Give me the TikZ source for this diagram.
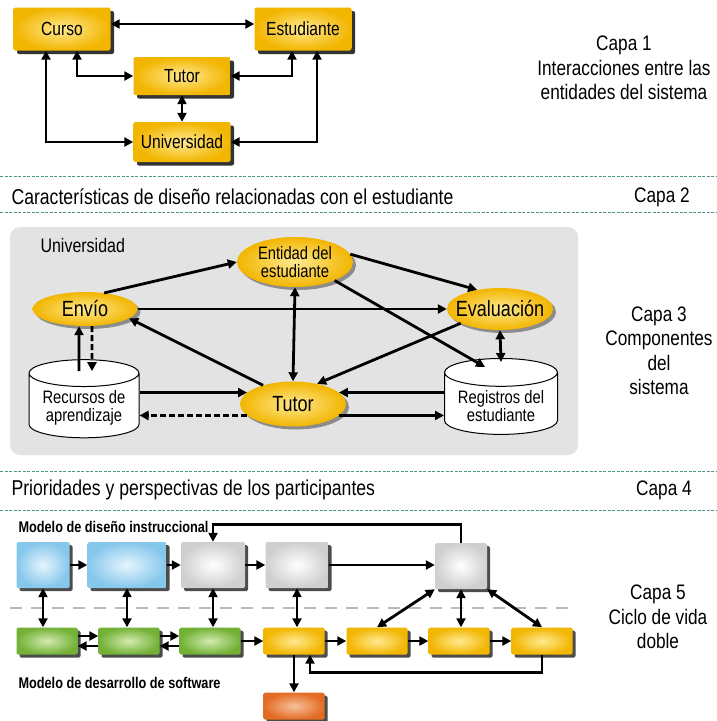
\documentclass[tikz,border=0pt]{standalone}
\usepackage{fontspec}
\setmainfont{Liberation Sans}[FakeStretch=0.82]
\usetikzlibrary{arrows.meta,positioning,shapes.geometric,shadows}

\definecolor{gold}{HTML}{F2B500}
\definecolor{goldlight}{HTML}{FFEA90}
\definecolor{sepgreen}{HTML}{4E9A86}
\definecolor{panelgray}{HTML}{E3E3E3}
\definecolor{skyblue}{HTML}{86C7EC}
\definecolor{skylight}{HTML}{E6F5FD}
\definecolor{boxgray}{HTML}{CFCFCF}
\definecolor{leafgreen}{HTML}{72B136}
\definecolor{leaflight}{HTML}{D3EBB0}
\definecolor{rust}{HTML}{E36B24}
\definecolor{rustlight}{HTML}{F7C09A}

\newcommand{\zw}[1]{\makebox[0pt]{#1}}

\begin{document}
\begin{tikzpicture}[x=1pt,y=-1pt]
% styles: text, separators, arrows
\tikzset{lbl/.style={font=\fontsize{21}{24.5}\selectfont, align=center}}
\tikzset{band/.style={font=\fontsize{21.5}{24}\selectfont, anchor=west}}
\tikzset{modlbl/.style={anchor=west, font=\fontsize{15.5}{18}\selectfont\bfseries}}
\tikzset{sep/.style={sepgreen, line width=1pt, dash pattern=on 3pt off 1.5pt}}
\tikzset{arr/.style={line width=2.8pt, -{Triangle[length=9pt,width=9pt]}}}
\tikzset{biarr/.style={line width=2.8pt, {Triangle[length=9pt,width=9pt]}-{Triangle[length=9pt,width=9pt]}}}
\tikzset{dasharr/.style={arr, dash pattern=on 6pt off 3pt}}
% styles: boxes, ellipses, databases
\tikzset{entbox/.style={rounded corners=2pt, minimum width=97, minimum height=43, inner color=goldlight, outer color=gold,
  drop shadow={shadow xshift=3.5pt, shadow yshift=-3.5pt, fill=black!80, opacity=1}, font=\fontsize{19}{22}\selectfont}}
\tikzset{ell/.style={ellipse, inner sep=0pt, inner color=goldlight, outer color=gold, align=center,
  drop shadow={shadow xshift=3pt, shadow yshift=-3pt, fill=black!45, opacity=1}}}
\tikzset{cyl/.style={cylinder, shape border rotate=90, aspect=0.3, draw, line width=1pt, fill=white, align=center,
  font=\fontsize{18}{18.5}\selectfont}}
\tikzset{stage/.style={rounded corners=1.5pt, inner sep=0pt, minimum height=46,
  drop shadow={shadow xshift=3pt, shadow yshift=-3pt, fill=black!70, opacity=1}}}
\tikzset{tarea/.style={stage, minimum width=61, minimum height=27}}
\tikzset{azul/.style={stage, inner color=skylight, outer color=skyblue}}
\tikzset{gris/.style={stage, inner color=white, outer color=boxgray}}
\tikzset{verde/.style={tarea, inner color=leaflight, outer color=leafgreen}}
\tikzset{oro/.style={tarea, inner color=goldlight, outer color=gold}}
\tikzset{naranja/.style={tarea, inner color=rustlight, outer color=rust}}

\path[use as bounding box, fill=white] (0,0) rectangle (717,721);

% Capa 1
\node[entbox] (curso) at (62,29) {Curso};
\node[entbox] (estud) at (303,29) {Estudiante};
\node[entbox, minimum height=38] (tutorA) at (182,76) {Tutor};
\node[entbox, minimum height=40] (univA) at (182,142) {Universidad};
\draw[biarr] ([yshift=5]curso.east) -- ([yshift=5]estud.west);
\draw[biarr] ([xshift=15]curso.south) |- (tutorA.west);
\draw[biarr] ([xshift=-16]curso.south) |- (univA.west);
\draw[biarr] ([xshift=-11]estud.south) |- (tutorA.east);
\draw[biarr] ([xshift=14]estud.south) |- (univA.east);
\draw[biarr] (tutorA.south) -- (univA.north);
\node[lbl] (capa1) at (624,68) {Capa 1\\Interacciones entre las\\entidades del sistema};

% Capa 2
\draw[sep] (0,176) -- (717,176);
\node[band] (cap2txt) at (8,197) {Características de diseño relacionadas con el estudiante};
\node[lbl] (capa2) at (662,197) {Capa 2};
\draw[sep] (0,212) -- (717,212);

% Capa 3
\fill[panelgray, rounded corners=10] (10,227) rectangle (578,455);
\node[anchor=west, font=\fontsize{19.5}{22}\selectfont] (univB) at (37,246) {Universidad};
\node[ell, minimum width=105, minimum height=34, font=\fontsize{22}{24}\selectfont] (envio) at (85,309) {Envío};
\node[ell, minimum width=116, minimum height=50, font=\fontsize{18}{18.5}\selectfont] (entidad) at (295,262) {Entidad del\\estudiante};
\node[ell, minimum width=106, minimum height=42, font=\fontsize{22}{24}\selectfont] (evalua) at (500,309) {\zw{Evaluación}};
\node[ell, minimum width=106, minimum height=45, font=\fontsize{22}{24}\selectfont] (tutorB) at (293,404) {Tutor};
\node[cyl, minimum width=110, minimum height=75] (recursos) at (84,408) {Recursos de\\aprendizaje};
\node[cyl, minimum width=113, minimum height=75] (registros) at (501,406) {Registros del\\estudiante};
\draw[arr] (envio.40) -- (entidad.west);
\draw[arr] (envio.east) -- (evalua.west);
\draw[arr] (entidad.8) -- (evalua.140);
\draw[arr] (entidad.-25) -- ([xshift=-16,yshift=-9]registros.north);
\draw[biarr] (entidad.south) -- (tutorB.north);
\draw[arr] (tutorB.148) -- (envio.-12);
\draw[arr] (evalua.200) -- (tutorB.40);
\draw[biarr] (evalua.south) -- ([yshift=-4]registros.north);
\draw[arr] ([xshift=-5,yshift=-12]recursos.north) -- ([xshift=-6]envio.south);
\draw[dasharr] ([xshift=7]envio.south) -- ([xshift=8,yshift=-12]recursos.north);
\draw[arr] (recursos.east |- tutorB.166) -- (tutorB.166);
\draw[dasharr] (tutorB.194) -- (recursos.east |- tutorB.194);
\draw[arr] (registros.west |- tutorB.14) -- (tutorB.14);
\draw[arr] (tutorB.-14) -- (registros.west |- tutorB.-14);
\node[lbl] (capa3) at (659,351) {Capa 3\\Componentes\\del\\sistema};

% Capa 4
\draw[sep] (0,471) -- (717,471);
\node[band] (cap4txt) at (8,490) {Prioridades y perspectivas de los participantes};
\node[lbl] (capa4) at (664,490) {Capa 4};
\draw[sep] (0,510) -- (717,510);

% Capa 5
\node[modlbl] (mdi) at (15,527) {Modelo de diseño instruccional};
\node[modlbl] (mds) at (15,683) {Modelo de desarrollo de software};
\draw[gray!55, line width=1.2pt, dash pattern=on 12pt off 9pt] (10,608) -- (570,608);
\node[azul, minimum width=53] (b1) at (43,565) {};
\node[azul, minimum width=79] (b2) at (127,565) {};
\node[gris, minimum width=64] (b3) at (213,565) {};
\node[gris, minimum width=63] (b4) at (297,565) {};
\node[gris, minimum width=52] (b5) at (461,566) {};
\node[verde] (s1) at (47,641) {};
\node[verde] (s2) at (129,641) {};
\node[verde] (s3) at (210,641) {};
\node[oro] (s4) at (294,641) {};
\node[oro] (s5) at (377,641) {};
\node[oro] (s6) at (459,641) {};
\node[oro] (s7) at (542,641) {};
\node[naranja] (s8) at (294,706) {};
\draw[arr] (b1.east) -- (b2.west);
\draw[arr] (b2.east) -- (b3.west);
\draw[arr] (b3.east) -- (b4.west);
\draw[arr] (b4.east) -- (b4.east -| b5.west);
\draw[arr] (b5.north) -- ++(0,-18) -| (b3.north);
\draw[biarr] (b1.south) -- (b1.south |- s1.north);
\draw[biarr] (b2.south) -- (b2.south |- s2.north);
\draw[biarr] (b3.south) -- (b3.south |- s3.north);
\draw[biarr] (b4.south) -- (b4.south |- s4.north);
\draw[biarr] (b5.south west) -- (s5.north);
\draw[biarr] (b5.south) -- (b5.south |- s6.north);
\draw[biarr] (b5.south east) -- (s7.north);
\draw[arr] ([yshift=5]s1.east) -- ([yshift=5]s2.west);
\draw[arr] ([yshift=-5]s2.west) -- ([yshift=-5]s1.east);
\draw[arr] ([yshift=5]s2.east) -- ([yshift=5]s3.west);
\draw[arr] ([yshift=-5]s3.west) -- ([yshift=-5]s2.east);
\draw[arr] (s3.east) -- (s4.west);
\draw[arr] (s4.east) -- (s5.west);
\draw[arr] (s5.east) -- (s6.west);
\draw[arr] (s6.east) -- (s7.west);
\draw[arr] (s7.south) -- ++(0,18) -| ([xshift=16]s4.south);
\draw[arr] (s4.south) -- (s8.north);
\node[lbl] (capa5) at (658,617) {Capa 5\\Ciclo de vida\\doble};
\end{tikzpicture}
\end{document}
